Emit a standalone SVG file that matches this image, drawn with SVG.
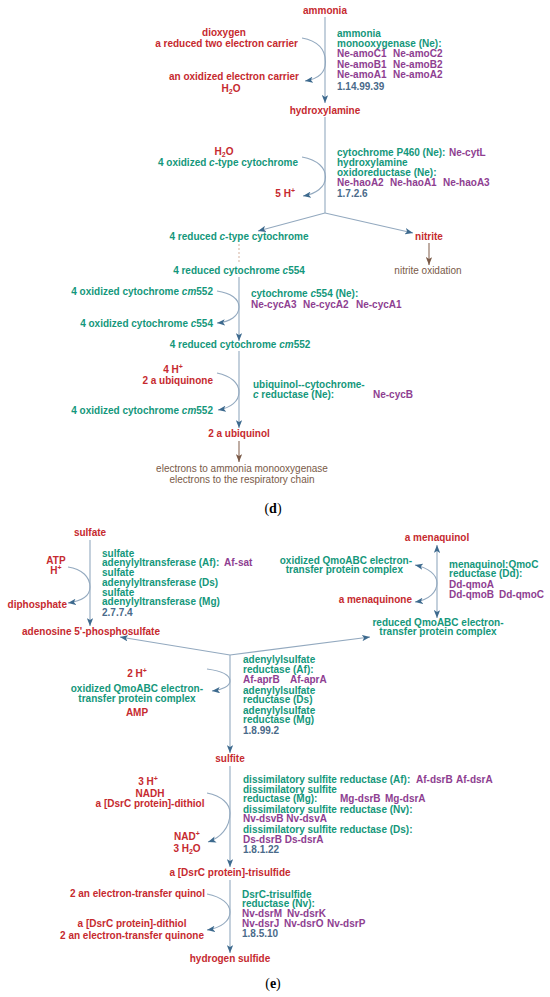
<svg xmlns="http://www.w3.org/2000/svg" width="550" height="997" viewBox="0 0 550 997">
<defs>
<marker id="ah" viewBox="0 0 10 8" refX="10" refY="4" markerWidth="8" markerHeight="6.4" markerUnits="userSpaceOnUse" orient="auto-start-reverse"><path d="M0,0 L10,4 L0,8 L2.5,4 z" fill="#3d6a8e"/></marker>
<marker id="ahb" viewBox="0 0 10 8" refX="10" refY="4" markerWidth="8" markerHeight="6.4" markerUnits="userSpaceOnUse" orient="auto"><path d="M0,0 L10,4 L0,8 L2.5,4 z" fill="#7a5a48"/></marker>
</defs>
<style>
text{font-family:"Liberation Sans",Arial,sans-serif;font-size:10px;font-weight:bold}
.r{fill:#c62a2f}.t{fill:#14977b}.p{fill:#8e3e91}.ec{fill:#4a6a8a}
.b{fill:#7a5a48;font-weight:normal}
.m{text-anchor:middle}.e{text-anchor:end}
.cap{font-family:"Liberation Serif","Times New Roman",serif;font-size:14px;font-weight:normal;fill:#000}
.ln{fill:none;stroke:#93a9bf;stroke-width:1.1}
.ar{marker-end:url(#ah)}
.bl{fill:none;stroke:#8a6a58;stroke-width:1.1;marker-end:url(#ahb)}
.dot{fill:none;stroke:#d8b8a8;stroke-width:1.1;stroke-dasharray:2,2}
</style>
<g id="connectors">
<path class="ln ar" d="M325 17 V103"/>
<path class="ln" d="M325 117 V213"/>
<path class="ln ar" d="M325 213 L258 231"/>
<path class="ln ar" d="M325 213 L413 233"/>
<path class="ln ar" d="M302 38 C318 41 325.5 50 325.5 62 C325.5 73 318 79 305 81"/>
<path class="ln ar" d="M302 157 C318 160 325.5 168 325.5 177 C325.5 187 316 194 303 196"/>
<path class="bl" d="M429 243 V265"/>
<path class="dot" d="M239 244 V264"/>
<path class="ln ar" d="M239 277 V341"/>
<path class="ln ar" d="M217 291 C231 293 239 299 239 307 C239 316 230 322 217 323"/>
<path class="ln ar" d="M239 351 V428"/>
<path class="ln ar" d="M217 373 C231 376 239 383 239 392 C239 401 231 408 218 410"/>
<path class="bl" d="M239 441 V462"/>
<path class="ln ar" d="M90 540 V626"/>
<path class="ln ar" d="M68 567 C82 569 90 577 90 587 C90 596 82 601 68 603"/>
<path class="ln ar" d="M230 655 L120 637"/>
<path class="ln ar" d="M230 655 L370 637"/>
<path class="ln ar" d="M230 655 V753"/>
<path class="ln ar" d="M437 545 V618" marker-start="url(#ah)"/>
<path class="ln ar" d="M415 565 C429 568 437 575 437 583 C437 592 429 600 415 602" marker-start="url(#ah)"/>
<path class="ln ar" d="M207 669 C222 671 230 675 230 681 C230 686 222 690 212 691"/>
<path class="ln ar" d="M230 766 V867"/>
<path class="ln ar" d="M207 793 C222 796 230 804 230 813 C230 828 220 838 208 842"/>
<path class="ln ar" d="M230 880 V953"/>
<path class="ln ar" d="M207 894 C222 897 230 904 230 912 C230 921 221 928 207 930"/>
</g>
<g id="node-ammonia"><text class="r m" x="325" y="14">ammonia</text></g>
<g id="node-amo-side">
<text class="r m" x="224" y="36">dioxygen</text>
<text class="r e" x="298" y="47">a reduced two electron carrier</text>
<text class="r e" x="299" y="80">an oxidized electron carrier</text>
<text class="r m" x="231" y="92">H<tspan font-size="7" dy="1.5">2</tspan><tspan dy="-1.5">O</tspan></text>
</g>
<g id="node-amo-enzyme">
<text class="t" x="337" y="37">ammonia</text>
<text class="t" x="337" y="47">monooxygenase (Ne):</text>
<text class="p" y="57"><tspan x="337">Ne-amoC1</tspan><tspan x="393">Ne-amoC2</tspan></text>
<text class="p" y="68"><tspan x="337">Ne-amoB1</tspan><tspan x="393">Ne-amoB2</tspan></text>
<text class="p" y="78"><tspan x="337">Ne-amoA1</tspan><tspan x="393">Ne-amoA2</tspan></text>
<text class="ec" x="337" y="90">1.14.99.39</text>
</g>
<g id="node-hydroxylamine"><text class="r m" x="325" y="114">hydroxylamine</text></g>
<g id="node-hao-side">
<text class="r m" x="224" y="155">H<tspan font-size="7" dy="1.5">2</tspan><tspan dy="-1.5">O</tspan></text>
<text class="t e" x="298" y="166">4 oxidized <tspan font-style="italic">c</tspan>-type cytochrome</text>
<text class="r e" x="295" y="197">5 H<tspan font-size="7" dy="-4">+</tspan></text>
</g>
<g id="node-hao-enzyme">
<text class="t" x="337" y="156">cytochrome P460 (Ne):</text>
<text class="p" x="449" y="156">Ne-cytL</text>
<text class="t" x="337" y="166">hydroxylamine</text>
<text class="t" x="337" y="176">oxidoreductase (Ne):</text>
<text class="p" y="186"><tspan x="337">Ne-haoA2</tspan><tspan x="390">Ne-haoA1</tspan><tspan x="443">Ne-haoA3</tspan></text>
<text class="ec" x="337" y="197">1.7.2.6</text>
</g>
<g id="node-reduced-ctype"><text class="t m" x="239" y="240">4 reduced <tspan font-style="italic">c</tspan>-type cytochrome</text></g>
<g id="node-nitrite"><text class="r m" x="429" y="240">nitrite</text></g>
<g id="node-nitrite-oxidation"><text class="b m" x="428" y="274">nitrite oxidation</text></g>
<g id="node-reduced-c554"><text class="t m" x="239" y="274">4 reduced cytochrome <tspan font-style="italic">c</tspan>554</text></g>
<g id="node-c554-side">
<text class="t e" x="213" y="295">4 oxidized cytochrome <tspan font-style="italic">cm</tspan>552</text>
<text class="t e" x="213" y="327">4 oxidized cytochrome <tspan font-style="italic">c</tspan>554</text>
</g>
<g id="node-c554-enzyme">
<text class="t" x="251" y="297">cytochrome <tspan font-style="italic">c</tspan>554 (Ne):</text>
<text class="p" y="308"><tspan x="251">Ne-cycA3</tspan><tspan x="303">Ne-cycA2</tspan><tspan x="356">Ne-cycA1</tspan></text>
</g>
<g id="node-reduced-cm552"><text class="t m" x="240" y="348">4 reduced cytochrome <tspan font-style="italic">cm</tspan>552</text></g>
<g id="node-ubi-side">
<text class="r m" x="173" y="373">4 H<tspan font-size="7" dy="-4">+</tspan></text>
<text class="r e" x="213" y="384">2 a ubiquinone</text>
<text class="t e" x="213" y="414">4 oxidized cytochrome <tspan font-style="italic">cm</tspan>552</text>
</g>
<g id="node-ubi-enzyme">
<text class="t" x="253" y="388">ubiquinol--cytochrome-</text>
<text class="t" x="253" y="398"><tspan font-style="italic">c</tspan> reductase (Ne):</text>
<text class="p" x="373" y="398">Ne-cycB</text>
</g>
<g id="node-ubiquinol"><text class="r m" x="239" y="437">2 a ubiquinol</text></g>
<g id="node-electrons">
<text class="b m" x="242" y="472">electrons to ammonia monooxygenase</text>
<text class="b m" x="242" y="483">electrons to the respiratory chain</text>
</g>
<text class="cap m" x="273" y="513">(<tspan font-weight="bold">d</tspan>)</text>
<g id="node-sulfate"><text class="r m" x="90" y="536">sulfate</text></g>
<g id="node-sat-side">
<text class="r m" x="56" y="564">ATP</text>
<text class="r m" x="56" y="574">H<tspan font-size="7" dy="-4">+</tspan></text>
<text class="r e" x="67" y="608">diphosphate</text>
</g>
<g id="node-sat-enzyme">
<text class="t" x="102" y="557">sulfate</text>
<text class="t" x="102" y="566">adenylyltransferase (Af):</text>
<text class="p" x="224" y="566">Af-sat</text>
<text class="t" x="102" y="576">sulfate</text>
<text class="t" x="102" y="586">adenylyltransferase (Ds)</text>
<text class="t" x="102" y="596">sulfate</text>
<text class="t" x="102" y="605">adenylyltransferase (Mg)</text>
<text class="ec" x="102" y="616">2.7.7.4</text>
</g>
<g id="node-aps"><text class="r e" x="160" y="635">adenosine 5'-phosphosulfate</text></g>
<g id="node-menaquinol"><text class="r m" x="437" y="541">a menaquinol</text></g>
<g id="node-qmo-side">
<text class="t e" x="412" y="564">oxidized QmoABC electron-</text>
<text class="t e" x="403" y="573">transfer protein complex</text>
<text class="r e" x="412" y="603">a menaquinone</text>
</g>
<g id="node-qmo-enzyme">
<text class="t" x="449" y="568">menaquinol:QmoC</text>
<text class="t" x="449" y="577">reductase (Dd):</text>
<text class="p" x="449" y="588">Dd-qmoA</text>
<text class="p" y="598"><tspan x="449">Dd-qmoB</tspan><tspan x="499">Dd-qmoC</tspan></text>
</g>
<g id="node-reduced-qmo">
<text class="t m" x="438" y="626">reduced QmoABC electron-</text>
<text class="t m" x="438" y="635">transfer protein complex</text>
</g>
<g id="node-apr-enzyme">
<text class="t" x="243" y="663">adenylylsulfate</text>
<text class="t" x="243" y="673">reductase (Af):</text>
<text class="p" y="683"><tspan x="243">Af-aprB</tspan><tspan x="290">Af-aprA</tspan></text>
<text class="t" x="243" y="694">adenylylsulfate</text>
<text class="t" x="243" y="703">reductase (Ds)</text>
<text class="t" x="243" y="714">adenylylsulfate</text>
<text class="t" x="243" y="723">reductase (Mg)</text>
<text class="ec" x="243" y="734">1.8.99.2</text>
</g>
<g id="node-apr-side">
<text class="r m" x="137" y="677">2 H<tspan font-size="7" dy="-4">+</tspan></text>
<text class="t e" x="203" y="692">oxidized QmoABC electron-</text>
<text class="t m" x="137" y="702">transfer protein complex</text>
<text class="r m" x="137" y="716">AMP</text>
</g>
<g id="node-sulfite"><text class="r m" x="230" y="762">sulfite</text></g>
<g id="node-dsr-side">
<text class="r m" x="148" y="785">3 H<tspan font-size="7" dy="-4">+</tspan></text>
<text class="r m" x="150" y="797">NADH</text>
<text class="r m" x="150" y="807">a [DsrC protein]-dithiol</text>
<text class="r m" x="187" y="840">NAD<tspan font-size="7" dy="-4">+</tspan></text>
<text class="r m" x="187" y="852">3 H<tspan font-size="7" dy="1.5">2</tspan><tspan dy="-1.5">O</tspan></text>
</g>
<g id="node-dsr-enzyme">
<text class="t" x="243" y="783">dissimilatory sulfite reductase (Af):</text>
<text class="p" y="783"><tspan x="416">Af-dsrB</tspan><tspan x="456">Af-dsrA</tspan></text>
<text class="t" x="243" y="793">dissimilatory sulfite</text>
<text class="t" x="243" y="802">reductase (Mg):</text>
<text class="p" y="802"><tspan x="340">Mg-dsrB</tspan><tspan x="385">Mg-dsrA</tspan></text>
<text class="t" x="243" y="813">dissimilatory sulfite reductase (Nv):</text>
<text class="p" x="243" y="822">Nv-dsvB Nv-dsvA</text>
<text class="t" x="243" y="833">dissimilatory sulfite reductase (Ds):</text>
<text class="p" x="243" y="843">Ds-dsrB Ds-dsrA</text>
<text class="ec" x="243" y="853">1.8.1.22</text>
</g>
<g id="node-trisulfide"><text class="r m" x="230" y="876">a [DsrC protein]-trisulfide</text></g>
<g id="node-dsrmk-side">
<text class="r e" x="205" y="897">2 an electron-transfer quinol</text>
<text class="r m" x="132" y="927">a [DsrC protein]-dithiol</text>
<text class="r e" x="204" y="939">2 an electron-transfer quinone</text>
</g>
<g id="node-dsrmk-enzyme">
<text class="t" x="242" y="898">DsrC-trisulfide</text>
<text class="t" x="242" y="907">reductase (Nv):</text>
<text class="p" y="917"><tspan x="242">Nv-dsrM</tspan><tspan x="287">Nv-dsrK</tspan></text>
<text class="p" y="927"><tspan x="242">Nv-dsrJ</tspan><tspan x="284">Nv-dsrO</tspan><tspan x="327">Nv-dsrP</tspan></text>
<text class="ec" x="242" y="937">1.8.5.10</text>
</g>
<g id="node-h2s"><text class="r m" x="230" y="962">hydrogen sulfide</text></g>
<text class="cap m" x="273" y="988">(<tspan font-weight="bold">e</tspan>)</text>
</svg>
